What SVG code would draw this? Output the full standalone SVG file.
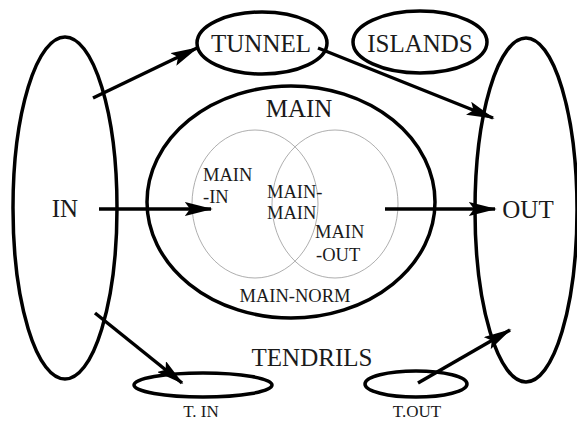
<svg xmlns="http://www.w3.org/2000/svg" width="577" height="421" viewBox="0 0 577 421">
<style>
.big{fill:none;stroke:#000;stroke-width:3.5}
.thin{fill:none;stroke:#999;stroke-width:0.8}
.e{stroke:#000;stroke-width:3.5;fill:none}
text{font-family:"Liberation Serif","Times New Roman",serif;fill:#1a1a1a;text-anchor:middle}
.l{font-size:25px}
.s{font-size:18.5px;text-anchor:start}
.t{font-size:18.5px}
.b{font-size:17px}
</style>
<defs>
<marker id="ah" markerWidth="8" markerHeight="4" refX="7.5" refY="2" orient="auto" markerUnits="strokeWidth" viewBox="0 0 8 4">
<path d="M0,0 L8,2 L0,4 L1.5,2 Z" fill="#000"/>
</marker>
</defs>
<rect width="577" height="421" fill="#fff"/>
<g id="in"><ellipse class="big" cx="65" cy="208" rx="52" ry="171"/><text class="l" x="65" y="217">IN</text></g>
<g id="out"><ellipse class="big" cx="526" cy="210" rx="51" ry="172"/><text class="l" x="528" y="218">OUT</text></g>
<g id="tunnel"><ellipse class="big" cx="262" cy="43" rx="65" ry="31"/><text class="l" x="261" y="52">TUNNEL</text></g>
<g id="islands"><ellipse class="big" cx="420" cy="42" rx="67" ry="31"/><text class="l" x="420" y="52">ISLANDS</text></g>
<g id="main"><ellipse class="big" cx="291" cy="202" rx="144" ry="116"/><text class="l" x="299" y="117">MAIN</text><text class="t" x="295" y="302">MAIN-NORM</text></g>
<g id="main-in"><ellipse class="thin" cx="255" cy="204" rx="63" ry="74"/><text class="s" x="203" y="181">MAIN</text><text class="s" x="203" y="203">-IN</text></g>
<g id="main-out"><ellipse class="thin" cx="335" cy="204" rx="63" ry="74"/><text class="s" x="315" y="238">MAIN</text><text class="s" x="316" y="261">-OUT</text></g>
<g id="main-main"><text class="s" x="267" y="198">MAIN-</text><text class="s" x="267" y="219">MAIN</text></g>
<g id="tendrils"><text class="l" x="312" y="366">TENDRILS</text></g>
<g id="t-in"><ellipse class="big" cx="203" cy="385" rx="69" ry="12"/><text class="b" x="201" y="417">T. IN</text></g>
<g id="t-out"><ellipse class="big" cx="416" cy="384" rx="51" ry="13"/><text class="b" x="417" y="417">T.OUT</text></g>
<g id="connectors">
<line class="e" x1="93" y1="98" x2="197" y2="48" marker-end="url(#ah)"/>
<line class="e" x1="318" y1="48" x2="493" y2="118" marker-end="url(#ah)"/>
<line class="e" x1="99" y1="209" x2="211" y2="209" marker-end="url(#ah)"/>
<line class="e" x1="385" y1="209" x2="495" y2="209" marker-end="url(#ah)"/>
<line class="e" x1="95" y1="313" x2="182" y2="383" marker-end="url(#ah)"/>
<line class="e" x1="418" y1="383" x2="510" y2="330" marker-end="url(#ah)"/>
</g>
</svg>
